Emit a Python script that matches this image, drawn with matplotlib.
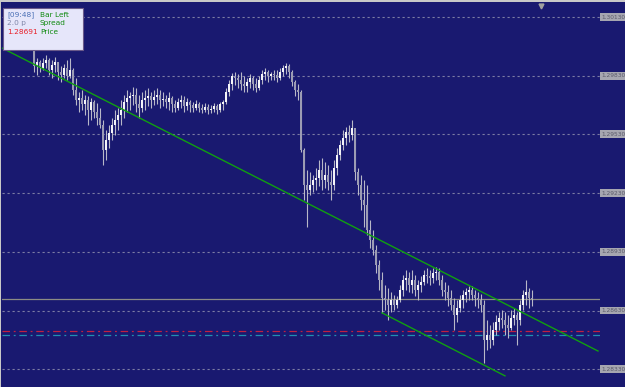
import numpy as np
import matplotlib
matplotlib.use("Agg")
import matplotlib.pyplot as plt
from matplotlib.patches import Rectangle

# bar data (M-something candles), open of each bar = close of the previous bar
first_open = 1.30050
close = [
    1.30038, 1.30023, 1.30048, 1.30013, 1.30033, 1.30002, 1.30023, 1.29992, 1.30013, 1.29987,
    1.29880, 1.29900, 1.29870, 1.29895, 1.29910, 1.29859, 1.29885, 1.29900, 1.29849, 1.29834,
    1.29870, 1.29829, 1.29859, 1.29757, 1.29706, 1.29716, 1.29686, 1.29706, 1.29655, 1.29696,
    1.29645, 1.29614, 1.29578, 1.29450, 1.29502, 1.29537, 1.29578, 1.29604, 1.29629, 1.29655,
    1.29696, 1.29716, 1.29726, 1.29732, 1.29686, 1.29665, 1.29706, 1.29716, 1.29726, 1.29706,
    1.29721, 1.29732, 1.29706, 1.29711, 1.29696, 1.29716, 1.29686, 1.29665, 1.29696, 1.29706,
    1.29675, 1.29696, 1.29680, 1.29665, 1.29686, 1.29665, 1.29655, 1.29670, 1.29655, 1.29660,
    1.29675, 1.29655, 1.29686, 1.29696, 1.29747, 1.29788, 1.29829, 1.29818, 1.29808, 1.29788,
    1.29778, 1.29798, 1.29818, 1.29788, 1.29767, 1.29808, 1.29839, 1.29849, 1.29829, 1.29839,
    1.29834, 1.29818, 1.29849, 1.29870, 1.29880, 1.29849, 1.29798, 1.29757, 1.29747, 1.29450,
    1.29272, 1.29246, 1.29272, 1.29297, 1.29307, 1.29348, 1.29297, 1.29323, 1.29287, 1.29272,
    1.29358, 1.29425, 1.29476, 1.29512, 1.29542, 1.29527, 1.29563, 1.29338, 1.29272, 1.29195,
    1.29169, 1.29042, 1.28991, 1.28940, 1.28863, 1.28786, 1.28694, 1.28684, 1.28658, 1.28684,
    1.28658, 1.28684, 1.28735, 1.28786, 1.28796, 1.28761, 1.28786, 1.28735, 1.28761, 1.28776,
    1.28812, 1.28807, 1.28796, 1.28822, 1.28827, 1.28786, 1.28735, 1.28725, 1.28694, 1.28658,
    1.28607, 1.28643, 1.28684, 1.28709, 1.28725, 1.28735, 1.28709, 1.28694, 1.28684, 1.28658,
    1.28480, 1.28505, 1.28480, 1.28531, 1.28572, 1.28592, 1.28582, 1.28556, 1.28541, 1.28592,
    1.28607, 1.28582, 1.28658, 1.28709, 1.28725, 1.28694, 1.28691,
]
high = [
    1.30064, 1.30048, 1.30074, 1.30038, 1.30059, 1.30028, 1.30048, 1.30018, 1.30038, 1.30013,
    1.30002, 1.29921, 1.29910, 1.29921, 1.29936, 1.29921, 1.29910, 1.29926, 1.29900, 1.29880,
    1.29890, 1.29910, 1.29921, 1.29870, 1.29818, 1.29747, 1.29757, 1.29732, 1.29726, 1.29716,
    1.29706, 1.29691, 1.29665, 1.29604, 1.29553, 1.29578, 1.29614, 1.29655, 1.29665, 1.29706,
    1.29732, 1.29757, 1.29747, 1.29772, 1.29767, 1.29732, 1.29747, 1.29757, 1.29767, 1.29747,
    1.29757, 1.29767, 1.29757, 1.29747, 1.29732, 1.29747, 1.29726, 1.29706, 1.29716, 1.29732,
    1.29726, 1.29716, 1.29706, 1.29696, 1.29706, 1.29696, 1.29686, 1.29691, 1.29686, 1.29680,
    1.29691, 1.29686, 1.29696, 1.29706, 1.29767, 1.29808, 1.29844, 1.29849, 1.29839, 1.29849,
    1.29829, 1.29818, 1.29839, 1.29829, 1.29818, 1.29829, 1.29859, 1.29870, 1.29859, 1.29849,
    1.29859, 1.29859, 1.29870, 1.29885, 1.29895, 1.29890, 1.29859, 1.29808, 1.29788, 1.29757,
    1.29461, 1.29348, 1.29338, 1.29323, 1.29358, 1.29399, 1.29410, 1.29389, 1.29374, 1.29348,
    1.29399, 1.29461, 1.29502, 1.29553, 1.29568, 1.29578, 1.29604, 1.29553, 1.29358, 1.29323,
    1.29297, 1.29272, 1.29093, 1.29042, 1.28965, 1.28888, 1.28827, 1.28761, 1.28745, 1.28725,
    1.28709, 1.28704, 1.28761, 1.28812, 1.28837, 1.28827, 1.28837, 1.28812, 1.28786, 1.28807,
    1.28837, 1.28847, 1.28837, 1.28847, 1.28853, 1.28847, 1.28812, 1.28776, 1.28761, 1.28735,
    1.28694, 1.28684, 1.28709, 1.28735, 1.28745, 1.28755, 1.28755, 1.28735, 1.28725, 1.28715,
    1.28684, 1.28582, 1.28556, 1.28572, 1.28607, 1.28623, 1.28633, 1.28623, 1.28607, 1.28633,
    1.28643, 1.28623, 1.28684, 1.28735, 1.28786, 1.28745, 1.28735,
]
low = [
    1.30018, 1.30002, 1.30028, 1.29992, 1.30013, 1.29982, 1.30002, 1.29972, 1.29992, 1.29967,
    1.29849, 1.29834, 1.29849, 1.29859, 1.29870, 1.29834, 1.29818, 1.29849, 1.29808, 1.29798,
    1.29818, 1.29808, 1.29818, 1.29732, 1.29680, 1.29645, 1.29655, 1.29629, 1.29578, 1.29604,
    1.29614, 1.29578, 1.29563, 1.29374, 1.29399, 1.29461, 1.29502, 1.29527, 1.29553, 1.29578,
    1.29614, 1.29645, 1.29655, 1.29680, 1.29645, 1.29614, 1.29645, 1.29655, 1.29675, 1.29665,
    1.29680, 1.29686, 1.29665, 1.29675, 1.29665, 1.29655, 1.29645, 1.29645, 1.29655, 1.29665,
    1.29645, 1.29655, 1.29645, 1.29645, 1.29655, 1.29645, 1.29640, 1.29645, 1.29634, 1.29640,
    1.29645, 1.29634, 1.29645, 1.29655, 1.29686, 1.29726, 1.29757, 1.29783, 1.29767, 1.29757,
    1.29747, 1.29747, 1.29767, 1.29757, 1.29747, 1.29757, 1.29788, 1.29808, 1.29798, 1.29808,
    1.29808, 1.29798, 1.29808, 1.29829, 1.29839, 1.29818, 1.29778, 1.29726, 1.29706, 1.29440,
    1.29195, 1.29057, 1.29221, 1.29236, 1.29246, 1.29266, 1.29246, 1.29256, 1.29246, 1.29195,
    1.29246, 1.29323, 1.29399, 1.29450, 1.29476, 1.29491, 1.29502, 1.29297, 1.29221, 1.29144,
    1.29057, 1.29016, 1.28950, 1.28914, 1.28822, 1.28735, 1.28618, 1.28633, 1.28582, 1.28623,
    1.28633, 1.28643, 1.28674, 1.28704, 1.28735, 1.28725, 1.28720, 1.28704, 1.28684, 1.28725,
    1.28761, 1.28771, 1.28761, 1.28771, 1.28786, 1.28761, 1.28704, 1.28684, 1.28653, 1.28633,
    1.28531, 1.28572, 1.28623, 1.28643, 1.28674, 1.28684, 1.28684, 1.28653, 1.28643, 1.28623,
    1.28362, 1.28429, 1.28439, 1.28454, 1.28505, 1.28531, 1.28541, 1.28505, 1.28490, 1.28531,
    1.28556, 1.28454, 1.28556, 1.28633, 1.28658, 1.28643, 1.28653,
]

# price levels shown on the right scale
grid_levels = [1.30130, 1.29830, 1.29530, 1.29230, 1.28930, 1.28630, 1.28330]
grid_labels = ["1.30130", "1.29830", "1.29530", "1.29230", "1.28930", "1.28630", "1.28330"]

# drawn objects: trend lines as (bar, price) anchors, horizontal levels
trend_upper = [(-0.67, 1.29972), (198.0, 1.28423)]
trend_lower = [(126.0, 1.28618), (167.0, 1.28296)]
bid_level = 1.28691
dd_red_level = 1.28526
dd_teal_level = 1.28505

info_rows = [("[09:48]", "Bar Left", "#4a6fb5"),
             ("2.0 p", "Spread", "#7f86a8"),
             ("1.28691", "Price", "#e8202a")]

W, H = 625, 387
NAVY = "#191970"

close = np.array(close)
high = np.array(high)
low = np.array(low)
opens = np.concatenate([[first_open], close[:-1]])
x = np.arange(len(close))

fig = plt.figure(figsize=(W / 100, H / 100), dpi=100, facecolor=NAVY)
ax = fig.add_axes([2 / W, 0, 598 / W, 384 / H])
ax.set_facecolor(NAVY)
for s in ax.spines.values():
    s.set_visible(False)
ax.set_xticks([])
ax.set_yticks([])
ax.set_xlim(-0.667, 198.67)
ax.set_ylim(1.28239, 1.30202)

# grid
for lv in grid_levels:
    ax.axhline(lv, color="#7c7ca4", lw=0.8, ls=(0, (2, 2.5)), zorder=1)

# candles
up = close >= opens
ax.vlines(x, low, high, color="#b8b8c8", lw=0.8, zorder=3)
bottom = np.minimum(opens, close)
height = np.maximum(np.abs(close - opens), 0.00002)
ax.bar(x[up], height[up], bottom=bottom[up], width=0.62, color="#f4f4f8", zorder=4)
ax.bar(x[~up], height[~up], bottom=bottom[~up], width=0.62, color="#9c9cb4", zorder=4)

# levels
ax.axhline(bid_level, color="#8c8c84", lw=0.9, zorder=2)
ax.axhline(dd_red_level, color="#c02040", lw=0.9, ls=(0, (6, 3, 1.5, 3)), zorder=2)
ax.axhline(dd_teal_level, color="#2090b0", lw=0.9, ls=(0, (6, 3, 1.5, 3)), zorder=2)

# trend lines
for line in (trend_upper, trend_lower):
    (x0, y0), (x1, y1) = line
    ax.plot([x0, x1], [y0, y1], color="#10a010", lw=1.0, zorder=5)

# right price labels
for lv, lab in zip(grid_levels, grid_labels):
    ax.text(1.002, lv, lab, transform=ax.get_yaxis_transform(), fontsize=4.2,
            color="#5a5a6a", va="center", ha="left", clip_on=False,
            bbox=dict(boxstyle="square,pad=0.25", fc="#a6a6b0", ec="none"))

# window border bits
fig.patches.append(Rectangle((0, 1 - 2 / H), 1, 2 / H, transform=fig.transFigure,
                             fc="#c8c8c8", ec="none", zorder=10))
fig.patches.append(Rectangle((0, 0), 1.5 / W, 1, transform=fig.transFigure,
                             fc="#c8c8c8", ec="none", zorder=10))
fig.lines.append(plt.Line2D([541 / W], [1 - 6 / H], marker="v", ms=3.5,
                            color="#a0a0a0", transform=fig.transFigure))

# info box
fig.patches.append(Rectangle((3 / W, 1 - 50 / H), 80 / W, 42 / H, transform=fig.transFigure,
                             fc="#e6e6fa", ec="#6a5a8a", lw=0.8, zorder=20))
for k, (val, name, col) in enumerate(info_rows):
    yy = 1 - (15 + 8.5 * k) / H
    fig.text(7 / W, yy, val, color=col, fontsize=5.3, va="center", zorder=21)
    fig.text(40 / W, yy, name, color="#108a10", fontsize=5.3, va="center", zorder=21)

fig.savefig("out.png", dpi=100, facecolor=NAVY)
